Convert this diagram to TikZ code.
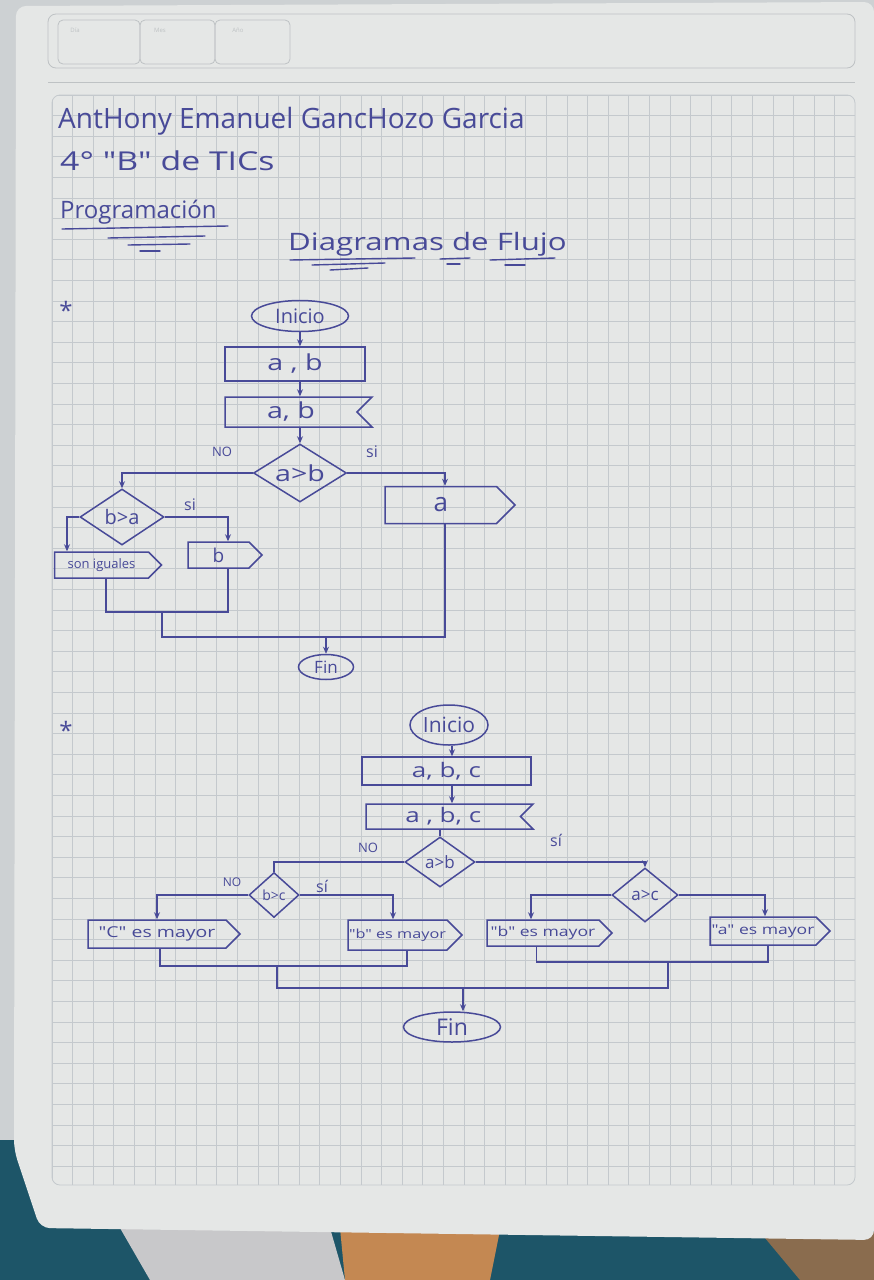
\documentclass[tikz,border=0pt]{standalone}
\usepackage{fontspec}
\setmainfont{Open Sans}[Ligatures=TeXOff]
\newfontfamily\wide{Open Sans}[FakeStretch=1.3, Ligatures=TeXOff]
\usetikzlibrary{shapes.geometric,shapes.symbols,arrows.meta,calc}
\definecolor{ink}{RGB}{72,74,152}
\definecolor{paper}{RGB}{229,231,230}
\definecolor{gridc}{RGB}{196,201,205}
\definecolor{outside}{RGB}{205,209,211}
\definecolor{teal}{RGB}{29,85,104}
\definecolor{cloth}{RGB}{200,200,202}
\definecolor{wood}{RGB}{196,136,82}
\definecolor{floorb}{RGB}{138,108,78}
\definecolor{faint}{RGB}{190,194,196}
\tikzset{
  fsz/.style={font=\fontsize{#1}{#1}\selectfont},
  wsz/.style={font=\wide\fontsize{#1}{#1}\selectfont},
  startstop/.style={ellipse, draw=ink, line width=1.5pt, inner sep=0pt, text=ink},
  iobox/.style={rectangle, draw=ink, line width=1.5pt, inner sep=0pt, text=ink},
  readbox/.style={signal, signal to=nowhere, signal from=east, draw=ink, line width=1.5pt, inner sep=0pt, text=ink},
  outbox/.style={signal, signal to=east, signal from=nowhere, draw=ink, line width=1.5pt, inner sep=0pt, text=ink},
  decision/.style={diamond, draw=ink, line width=1.5pt, inner sep=0pt},
  flow/.style={draw=ink, line width=1.5pt},
  arr/.style={flow, -{Stealth[length=7pt,width=6pt]}},
  lbl/.style={text=ink, inner sep=0pt},
  gridline/.style={draw=gridc, line width=0.7pt},
  deco/.style={draw=ink, line width=1.4pt, line cap=round}
}
\begin{document}
\begin{tikzpicture}[x=1pt,y=-1pt]
\useasboundingbox (0,0) rectangle (874,1280);
% background
\fill[outside] (0,0) rectangle (874,1280);
\fill[teal] (0,1140) rectangle (874,1280);
\fill[cloth] (120,1228) -- (330,1228) -- (345,1280) -- (150,1280) -- cycle;
\fill[wood] (340,1228) -- (500,1230) -- (490,1280) -- (345,1280) -- cycle;
\fill[floorb] (760,1232) -- (874,1232) -- (874,1280) -- (800,1280) -- cycle;
% paper
\fill[paper, rounded corners=10pt] (16,6) -- (874,2) -- (874,1240) -- (40,1228) -- (14,1150) -- cycle;
% header
\draw[faint, line width=0.8pt, rounded corners=8pt] (48,14) rectangle (855,68);
\draw[faint, line width=0.8pt, rounded corners=5pt] (58,20) rectangle (140,64);
\draw[faint, line width=0.8pt, rounded corners=5pt] (140,20) rectangle (215,64);
\draw[faint, line width=0.8pt, rounded corners=5pt] (215,20) rectangle (290,64);
\node[text=faint, fsz=6] (hd1) at (75,30) {Día};
\node[text=faint, fsz=6] (hd2) at (160,30) {Mes};
\node[text=faint, fsz=6] (hd3) at (238,30) {Año};
\draw[faint, line width=0.6pt] (48,82) -- (855,82);
% grid
\begin{scope}
\clip[rounded corners=8pt] (52,95) rectangle (855,1185);
\foreach \i in {0,...,39} \draw[gridline] ({52+\i*20.6},95) -- ({52+\i*20.6},1185);
\foreach \j in {0,...,53} \draw[gridline] (52,{95+\j*20.6}) -- (855,{95+\j*20.6});
\end{scope}
\draw[gridc, line width=0.8pt, rounded corners=8pt] (52,95) rectangle (855,1185);

% header text
\node[lbl, fsz=28, anchor=base west] (name) at (58,128) {AntHony Emanuel GancHozo Garcia};
\node[lbl, wsz=26, anchor=base west] (grp) at (60,170) {4° "B" de TICs};
\node[lbl, fsz=24, anchor=base west] (prog) at (60,218) {Programación};
\node[lbl, wsz=24, anchor=base west] (title) at (288,250) {Diagramas de Flujo};
\draw[deco] (62,229) -- (228,226);
\draw[deco] (108,238) -- (205,236);
\draw[deco] (128,245) -- (190,244);
\draw[deco] (140,251) -- (160,251);
\draw[deco] (290,260) -- (415,258);
\draw[deco] (312,265) -- (385,263);
\draw[deco] (330,270) -- (368,268);
\draw[deco] (440,259) -- (470,258);
\draw[deco] (447,264) -- (460,264);
\draw[deco] (490,260) -- (555,258);
\draw[deco] (505,265) -- (525,265);

% ===== flowchart 1 =====
\node[lbl, fsz=24] (star1) at (66,310) {*};
\node[startstop, fsz=20, minimum width=97pt, minimum height=31pt] (ini1) at (300,316) {Inicio};
\node[iobox, wsz=22, minimum width=140pt, minimum height=34pt] (in1) at (295,364) {a , b};
\node[readbox, wsz=22, minimum width=147pt, minimum height=30pt] (rd1) at (291,412) {a, b};
\node[decision, minimum width=93pt, minimum height=58pt, label={[lbl, wsz=22]center:a>b}] (d1) at (300,473) {};
\node[decision, minimum width=84pt, minimum height=56pt, label={[lbl, fsz=20]center:b>a}] (d2) at (122,517) {};
\node[outbox, fsz=26, minimum width=130pt, minimum height=37pt] (a1) at (440.75,505) {a\hspace{24pt}};
\node[outbox, fsz=13, minimum width=107pt, minimum height=26pt] (s1) at (101.5,565) {son iguales};
\node[outbox, fsz=19, minimum width=74pt, minimum height=26pt] (b1) at (218.5,555) {b};
\node[startstop, fsz=17, minimum width=55pt, minimum height=25pt] (fin1) at (326,667) {Fin};
\node[lbl, fsz=13] (no1) at (222,452) {NO};
\node[lbl, fsz=16] (si1) at (372,452) {si};
\node[lbl, fsz=16] (si2) at (190,505) {si};

\draw[arr] (ini1.south) -- (ini1.south |- in1.north);
\draw[arr] (ini1.south |- in1.south) -- (ini1.south |- rd1.north);
\draw[arr] (ini1.south |- rd1.south) -- (d1.north);
\draw[arr] (d1.west) -| (d2.north);
\draw[arr] (d1.east) -| ([xshift=4.25pt]a1.north);
\draw[arr] (d2.west) -| ([xshift=-34.5pt]s1.north);
\draw[arr] (d2.east) -| ([xshift=9.5pt]b1.north);
\coordinate (m1) at (162,612);
\coordinate (m2) at (326,637);
\draw[flow] ([xshift=4.5pt]s1.south) |- (m1) -| ([xshift=9.5pt]b1.south);
\draw[flow] (m1) |- (m2) -| ([xshift=4.25pt]a1.south);
\draw[arr] (m2) -- (fin1);

% ===== flowchart 2 =====
\node[lbl, fsz=24] (star2) at (66,730) {*};
\node[startstop, fsz=21, minimum width=78pt, minimum height=40pt] (ini2) at (449,725) {Inicio};
\node[iobox, wsz=20, minimum width=169pt, minimum height=28pt] (in2) at (446.5,771) {a, b, c};
\node[readbox, wsz=20, minimum width=167pt, minimum height=25pt] (rd2) at (443.25,816.5) {a , b, c};
\node[decision, minimum width=70pt, minimum height=50pt, label={[lbl, fsz=17]center:a>b}] (d3) at (440,862) {};
\node[decision, minimum width=50pt, minimum height=45pt, label={[lbl, fsz=14]center:b>c}] (d4) at (274,895) {};
\node[decision, minimum width=66pt, minimum height=54pt, label={[lbl, fsz=17]center:a>c}] (d5) at (645,895) {};
\node[outbox, wsz=15, minimum width=152pt, minimum height=28pt] (c1) at (157,934) {"C" es mayor};
\node[outbox, wsz=12.5, minimum width=114pt, minimum height=30pt] (b2) at (397.5,935) {"b" es mayor};
\node[outbox, wsz=13.5, minimum width=125pt, minimum height=26pt] (b3) at (543,933) {"b" es mayor};
\node[outbox, wsz=13.5, minimum width=120pt, minimum height=28pt] (a2) at (763,931) {"a" es mayor};
\node[startstop, fsz=23, minimum width=97pt, minimum height=30pt] (fin2) at (452,1027) {Fin};
\node[lbl, fsz=13] (no2) at (368,848) {NO};
\node[lbl, fsz=16] (si3) at (556,840) {sí};
\node[lbl, fsz=12] (no3) at (232,882) {NO};
\node[lbl, fsz=16] (si4) at (322,886) {sí};

\draw[arr] ([xshift=3pt]ini2.south) -- ([xshift=3pt]ini2.south |- in2.north);
\draw[arr] ([xshift=3pt]ini2.south |- in2.south) -- ([xshift=3pt]ini2.south |- rd2.north);
\draw[flow] (d3.north |- rd2.south) -- (d3.north);
\draw[flow] (d3.west) -| (d4.north);
\draw[arr] (d3.east) -| (d5.north);
\draw[arr] (d4.west) -| (c1.north);
\draw[arr] (d4.east) -| ([xshift=-4.5pt]b2.north);
\draw[arr] (d5.west) -| ([xshift=-12pt]b3.north);
\draw[arr] (d5.east) -| ([xshift=2pt]a2.north);
\coordinate (mL) at (277,966);
\coordinate (mR) at (668,962);
\coordinate (mB) at (463,988);
\draw[flow] ([xshift=3pt]c1.south) |- (mL) -| ([xshift=9.5pt]b2.south);
\draw[flow] ([xshift=-6.5pt]b3.south) |- (mR) -| ([xshift=5pt]a2.south);
\draw[flow] (mL) |- (mB) -| (mR);
\draw[arr] (mB) -- (mB |- fin2.north);
\end{tikzpicture}
\end{document}
